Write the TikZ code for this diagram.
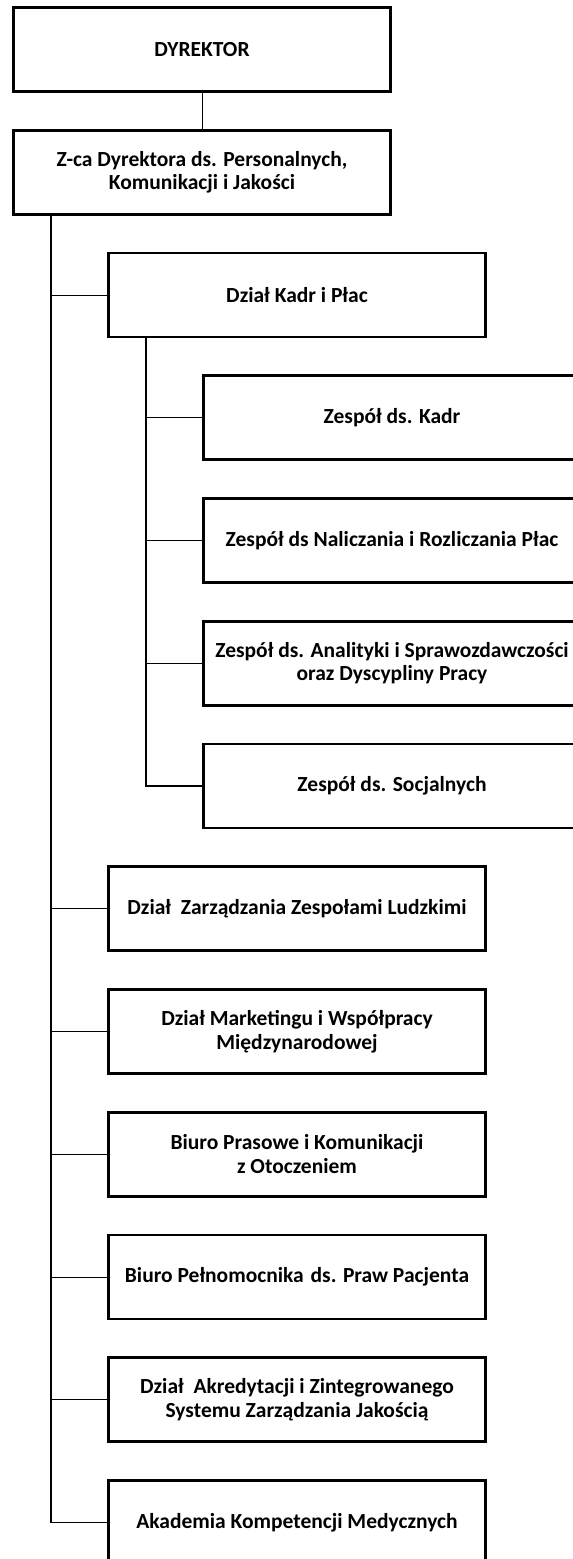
\documentclass[tikz,border=0pt]{standalone}
\usepackage{fontspec}
\setmainfont{Carlito}
\begin{document}
\begin{tikzpicture}[x=1pt,y=-1pt,
  box/.style={draw=black,line width=2.6pt,rectangle,minimum width=377pt,minimum height=84pt,
    inner sep=0pt,align=center,font=\fontsize{21.5}{23.5}\selectfont\bfseries},
  conn/.style={draw=black,line width=1pt},
  trunk/.style={draw=black,line width=1.4pt}]
\useasboundingbox (0,0) rectangle (573,1559);
\clip (0,0) rectangle (573,1559);
\coordinate (t) at (51,0);
\coordinate (s) at (146,0);
\node[box] (dyr) at (202,49.5) {DYREKTOR};
\node[box] (zca) at (202,172.25) {Z-ca Dyrektora ds. Personalnych,\\Komunikacji i Jakości};
\node[box] (kadr) at (297,295) {Dział Kadr i Płac};
\node[box] (z1) at (392,417.75) {Zespół ds. Kadr};
\node[box] (z2) at (392,540.5) {Zespół ds Naliczania i Rozliczania Płac};
\node[box] (z3) at (392,663.25) {Zespół ds. Analityki i Sprawozdawczości\\oraz Dyscypliny Pracy};
\node[box] (z4) at (392,786) {Zespół ds. Socjalnych};
\node[box] (d1) at (297,908.75) {Dział\ \ Zarządzania Zespołami Ludzkimi};
\node[box] (d2) at (297,1031.5) {Dział Marketingu i Współpracy\\Międzynarodowej};
\node[box] (d3) at (297,1154.25) {Biuro Prasowe i Komunikacji\\z Otoczeniem};
\node[box] (d4) at (297,1277) {Biuro Pełnomocnika\kern2pt\ ds. Praw Pacjenta};
\node[box] (d5) at (297,1399.75) {Dział\ \ Akredytacji i Zintegrowanego\\Systemu Zarządzania Jakością};
\node[box] (d6) at (297,1522.5) {Akademia Kompetencji Medycznych};
\draw[conn] (dyr.south) -- (zca.north);
\draw[trunk] (zca.south -| t) |- (d6.west);
\foreach \n in {kadr,d1,d2,d3,d4,d5} \draw[conn] (t |- \n.west) -- (\n.west);
\draw[trunk] (kadr.south -| s) |- (z4.west);
\foreach \n in {z1,z2,z3} \draw[conn] (s |- \n.west) -- (\n.west);
\end{tikzpicture}
\end{document}
